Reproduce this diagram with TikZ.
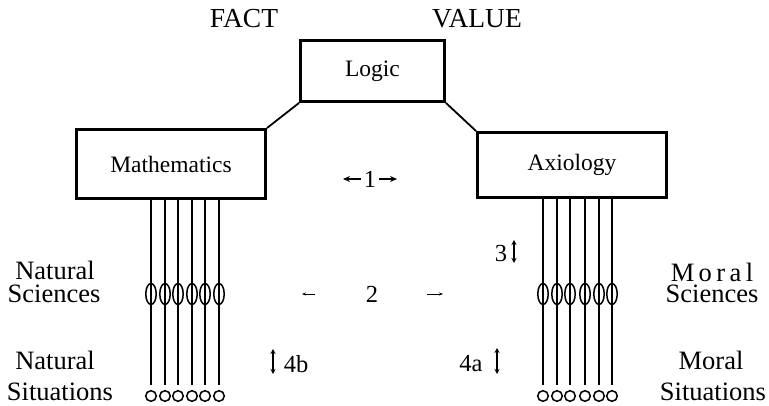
\documentclass[tikz,border=0pt]{standalone}
\usepackage{fontspec}
\setmainfont{Liberation Serif}
\usetikzlibrary{arrows.meta}
\begin{document}
\begin{tikzpicture}[x=1pt,y=-1pt,
  box/.style={draw, line width=2.9pt, inner sep=0pt, font=\fontsize{23.5}{26}\selectfont},
  lbl/.style={font=\fontsize{26.5}{28}\selectfont, inner sep=0pt, anchor=base},
  head/.style={font=\fontsize{27.5}{30}\selectfont, inner sep=0pt, anchor=base},
  num/.style={font=\fontsize{24.5}{26}\selectfont, inner sep=0pt, anchor=base},
  link/.style={line width=1.8pt},
  vline/.style={line width=2.9pt},
  oval/.style={line width=1.5pt},
  bigarrow/.style={line width=1.3pt, -{Stealth[length=7pt,width=6pt]}},
  tinyarrow/.style={line width=0.6pt, -{Stealth[length=4pt,width=3pt]}},
  updown/.style={line width=1.4pt, {Stealth[length=5pt,width=5pt]}-{Stealth[length=5pt,width=5pt]}}
]
\useasboundingbox (0,0) rectangle (769,406);

% headings
\node[head] (fact) at (244,28) {FACT};
\node[head] (value) at (477,28) {VALUE};

% boxes
\node[box, minimum width=144pt, minimum height=61pt] (logic) at (372.5,71) {Logic};
\node[box, minimum width=189pt, minimum height=69pt] (math) at (171,164) {Mathematics};
\node[box, minimum width=189pt, minimum height=65pt] (axio) at (572,165) {Axiology};

\draw[link] (logic.south west) -- (math.north east);
\draw[link] (logic.south east) -- (axio.north west);

% relation 1
\node[num] (one) at (370,188) {1};
\coordinate (oneL) at (343,179);
\coordinate (oneR) at (397,179);
\draw[bigarrow] (one.west |- oneL) ++(-3,0) -- (oneL);
\draw[bigarrow] (one.east |- oneR) ++(3,0) -- (oneR);

% vertical strands, left
\foreach \x in {151,165,178,192,205,219} {
  \draw[vline] (\x,0 |- math.south) -- (\x,385);
  \draw[oval] (\x,294) ellipse [x radius=5.2pt, y radius=10.5pt];
  \draw[oval] (\x,396) circle [radius=5.3pt];
}
% vertical strands, right
\foreach \x in {543,557,570,585,599,612} {
  \draw[vline] (\x,0 |- axio.south) -- (\x,385);
  \draw[oval] (\x,294) ellipse [x radius=5.2pt, y radius=10.5pt];
  \draw[oval] (\x,396) circle [radius=5.3pt];
}

% left labels
\node[lbl] (nat1) at (55,280) {Natural};
\node[lbl] (natsci) at (54,303) {Sciences};
\node[lbl] (nat2) at (55,369) {Natural};
\node[lbl] (natsit) at (60,400) {Situations};

% right labels
\node[lbl] (mor1) at (712,282) {M\,o\,r\,a\,l};
\node[lbl] (morsci) at (712,303) {Sciences};
\node[lbl] (mor2) at (711,370) {Moral};
\node[lbl] (morsit) at (713,400) {Situations};

% relation 2
\node[num] (two) at (372,303) {2};
\coordinate (twoLa) at (315,294);
\coordinate (twoLb) at (302,294);
\coordinate (twoRa) at (427,294);
\coordinate (twoRb) at (443,294);
\draw[tinyarrow] (twoLa) -- (twoLb);
\draw[tinyarrow] (twoRa) -- (twoRb);

% relation 3
\node[num] (three) at (501,262) {3};
\coordinate (thrT) at (514,240);
\coordinate (thrB) at (514,263);
\draw[updown] (thrT) -- (thrB);

% relation 4b
\coordinate (fbT) at (273,349);
\coordinate (fbB) at (273,374);
\draw[updown] (fbT) -- (fbB);
\node[num] (fourb) at (296,372) {4b};

% relation 4a
\node[num] (foura) at (471,371) {4a};
\coordinate (faT) at (497,348);
\coordinate (faB) at (497,374);
\draw[updown] (faT) -- (faB);
\end{tikzpicture}
\end{document}
